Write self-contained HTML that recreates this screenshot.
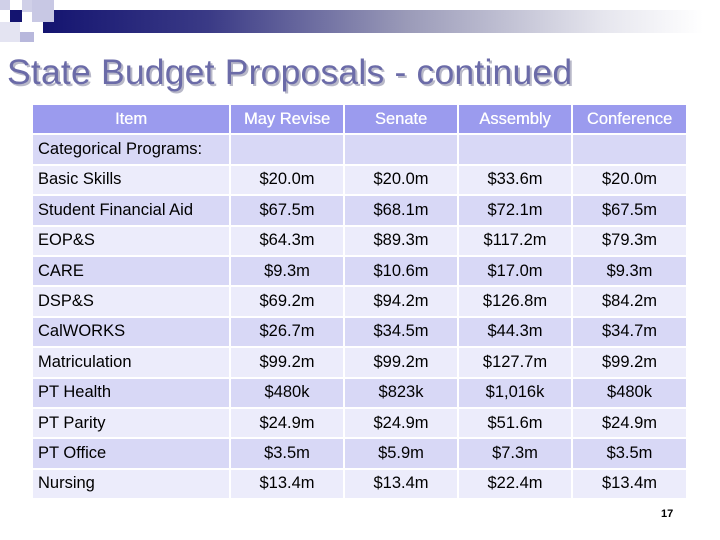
<!DOCTYPE html>
<html><head><meta charset="utf-8"><style>
body{margin:0;width:720px;height:540px;background:#fff;position:relative;overflow:hidden;font-family:"Liberation Sans",sans-serif}
.bar{position:absolute;left:43px;top:10px;width:660px;height:23px;background:linear-gradient(90deg,#141470 0%,#3a3a86 25%,#9a9ab8 55%,#e6e6ee 85%,#fff 100%)}
.sq{position:absolute}
h1{position:absolute;left:7px;top:52px;margin:0;font-size:35.5px;font-weight:normal;color:#6b6ba8;text-shadow:2px 2px 0 #b8b8c8;letter-spacing:0.2px;white-space:nowrap}
table{position:absolute;left:31px;top:103px;border-collapse:collapse;font-size:16.5px;table-layout:fixed;width:655px}
td,th{border:2px solid #fff;height:28.4px;padding:0 5px;text-align:center;color:#000;font-weight:normal;box-sizing:border-box}
tr{height:30.4px}
th{background:#9b9bee;color:#fff;text-shadow:0.3px 0 0 #fff}
tr:nth-child(even) td{background:#d8d8f6}
tr:nth-child(odd) td{background:#ececfb}
td:first-child{text-align:left}
.pg{position:absolute;left:661px;top:508px;font-size:11px;font-weight:bold}
</style></head><body>
<div class="bar"></div>
<div class="sq" style="left:10px;top:10px;width:12px;height:12px;background:#141470"></div>
<div class="sq" style="left:0;top:0;width:10px;height:10px;background:#d0d0e8"></div>
<div class="sq" style="left:22px;top:0;width:10px;height:12px;background:#d0d0e8"></div>
<div class="sq" style="left:32px;top:0;width:22px;height:22px;background:#c8c8e4"></div>
<div class="sq" style="left:0;top:22px;width:20px;height:20px;background:#e4e4f2"></div>
<div class="sq" style="left:20px;top:32px;width:14px;height:10px;background:#b8b8dc"></div>
<h1>State Budget Proposals - continued</h1>
<table>
<colgroup><col style="width:198px"><col style="width:114px"><col style="width:114px"><col style="width:114px"><col style="width:115px"></colgroup>
<tr><th>Item</th><th>May Revise</th><th>Senate</th><th>Assembly</th><th>Conference</th></tr>
<tr><td>Categorical Programs:</td><td></td><td></td><td></td><td></td></tr>
<tr><td>Basic Skills</td><td>$20.0m</td><td>$20.0m</td><td>$33.6m</td><td>$20.0m</td></tr>
<tr><td>Student Financial Aid</td><td>$67.5m</td><td>$68.1m</td><td>$72.1m</td><td>$67.5m</td></tr>
<tr><td>EOP&amp;S</td><td>$64.3m</td><td>$89.3m</td><td>$117.2m</td><td>$79.3m</td></tr>
<tr><td>CARE</td><td>$9.3m</td><td>$10.6m</td><td>$17.0m</td><td>$9.3m</td></tr>
<tr><td>DSP&amp;S</td><td>$69.2m</td><td>$94.2m</td><td>$126.8m</td><td>$84.2m</td></tr>
<tr><td>CalWORKS</td><td>$26.7m</td><td>$34.5m</td><td>$44.3m</td><td>$34.7m</td></tr>
<tr><td>Matriculation</td><td>$99.2m</td><td>$99.2m</td><td>$127.7m</td><td>$99.2m</td></tr>
<tr><td>PT Health</td><td>$480k</td><td>$823k</td><td>$1,016k</td><td>$480k</td></tr>
<tr><td>PT Parity</td><td>$24.9m</td><td>$24.9m</td><td>$51.6m</td><td>$24.9m</td></tr>
<tr><td>PT Office</td><td>$3.5m</td><td>$5.9m</td><td>$7.3m</td><td>$3.5m</td></tr>
<tr><td>Nursing</td><td>$13.4m</td><td>$13.4m</td><td>$22.4m</td><td>$13.4m</td></tr>
</table>
<div class="pg">17</div>
</body></html>
